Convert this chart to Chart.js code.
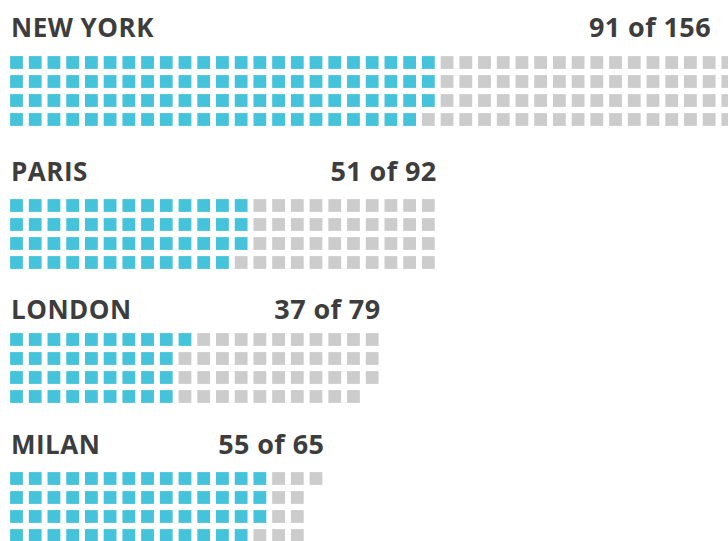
<!DOCTYPE html>
<html>
<head>
<meta charset="utf-8">
<script src="https://cdn.jsdelivr.net/npm/chart.js@4.4.1/dist/chart.umd.min.js"></script>
<style>
    html, body { margin: 0; padding: 0; background: #fff; overflow: hidden; }
    body { width: 728px; height: 541px; position: relative; }
    .head {
        position: absolute; left: 11px; height: 30px; line-height: 30px;
        display: flex; justify-content: space-between; align-items: baseline;
        font-family: 'Open Sans', sans-serif; font-weight: 700; color: #3d3d3d;
        white-space: nowrap;
    }
    .name { font-size: 26px; letter-spacing: 0.5px; }
    .count { font-size: 27px; letter-spacing: 0.4px; }
    .grid { position: absolute; left: 0; width: 728px; height: 76px; }
</style>
</head>
<body>
<script>
// data
const cities = ['NEW YORK', 'PARIS', 'LONDON', 'MILAN'];
const filledCounts = [91, 51, 37, 55];
const totalCounts = [156, 92, 79, 65];

// layout
const ROWS = 4;
const colPitch = 18.72;   // px between square columns
const rowPitch = 19;      // px between square rows
const squareSide = 12.8;
const gridTops = [56, 199, 333, 472];     // top of first row of squares
const headBaselines = [37, 181, 319, 454];

const blue = '#45c3da';
const grey = '#cccccc';

const xMin = -16.5 / colPitch;
const xMax = xMin + 728 / colPitch;

cities.forEach(function(city, i) {
    const total = totalCounts[i];
    const filled = filledCounts[i];
    const cols = Math.ceil(total / ROWS);

    // header: name left, "x of y" right-aligned to the grid edge
    const gridRight = 10 + (cols - 1) * colPitch + squareSide + 2;
    const head = document.createElement('div');
    head.className = 'head';
    head.style.top = (headBaselines[i] - 25) + 'px';
    head.style.width = (Math.min(gridRight, 711) - 11) + 'px';
    head.innerHTML = '<span class="name"></span><span class="count"></span>';
    head.children[0].textContent = city;
    head.children[1].textContent = filled + ' of ' + total;
    document.body.appendChild(head);

    // squares filled column by column, top to bottom
    const onPts = [];
    const offPts = [];
    for (let k = 0; k < total; k++) {
        const pt = { x: Math.floor(k / ROWS), y: k % ROWS };
        if (k < filled) onPts.push(pt); else offPts.push(pt);
    }

    const wrap = document.createElement('div');
    wrap.className = 'grid';
    wrap.style.top = (gridTops[i] - 3) + 'px';
    const canvas = document.createElement('canvas');
    wrap.appendChild(canvas);
    document.body.appendChild(wrap);

    const dot = {
        pointStyle: 'rect',
        pointRadius: squareSide / 2 / Math.SQRT1_2,
        pointHoverRadius: squareSide / 2 / Math.SQRT1_2,
        pointBorderWidth: 0,
        showLine: false,
        clip: false
    };

    new Chart(canvas.getContext('2d'), {
        type: 'scatter',
        data: {
            datasets: [
                Object.assign({ label: 'filled', data: onPts, backgroundColor: blue, borderColor: blue }, dot),
                Object.assign({ label: 'empty', data: offPts, backgroundColor: grey, borderColor: grey }, dot)
            ]
        },
        options: {
            responsive: true,
            maintainAspectRatio: false,
            animation: false,
            events: [],
            layout: { padding: 0, autoPadding: false },
            plugins: {
                legend: { display: false },
                tooltip: { enabled: false }
            },
            scales: {
                x: { type: 'linear', display: false, min: xMin, max: xMax },
                y: { type: 'linear', display: false, reverse: true, min: -0.5, max: ROWS - 0.5 }
            }
        }
    });
});
</script>
</body>
</html>
